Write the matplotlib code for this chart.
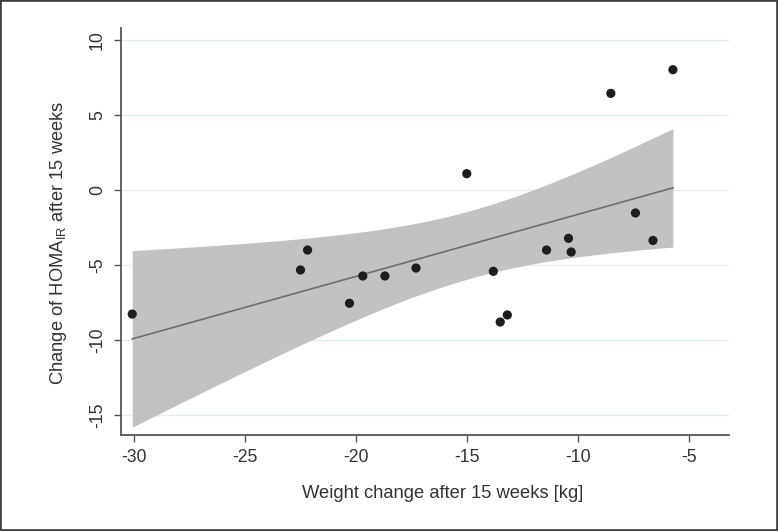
import numpy as np
import matplotlib
matplotlib.use("Agg")
import matplotlib.pyplot as plt

# Data
weight_change = [-30.1, -22.51, -22.19, -20.3, -19.70, -18.7, -17.30, -15.01, -13.81,
                 -13.5, -13.18, -11.41, -10.42, -10.30, -8.51, -7.40, -6.61, -5.71]
homa_change = [-8.27, -5.33, -4.0, -7.55, -5.73, -5.73, -5.2, 1.09, -5.42,
               -8.8, -8.33, -4.0, -3.22, -4.13, 6.44, -1.53, -3.36, 8.02]
x_ticks = [-30, -25, -20, -15, -10, -5]
y_ticks = [-15, -10, -5, 0, 5, 10]
x_label = "Weight change after 15 weeks [kg]"
y_label = "Change of HOMA$_\\mathregular{IR}$ after 15 weeks"

plt.rcParams['font.family'] = ['Liberation Sans', 'DejaVu Sans']
plt.rcParams['mathtext.fontset'] = 'custom'
plt.rcParams['mathtext.rm'] = 'Liberation Sans'

x = np.array(weight_change)
y = np.array(homa_change)
n = len(x)
b, a = np.polyfit(x, y, 1)
xs = np.linspace(x.min(), x.max(), 200)
yhat = a + b * xs
resid = y - (a + b * x)
s = np.sqrt(np.sum(resid ** 2) / (n - 2))
sxx = np.sum((x - x.mean()) ** 2)
tcrit = 2.45  # band multiplier chosen to match the reference band width
half = tcrit * s * np.sqrt(1.0 / n + (xs - x.mean()) ** 2 / sxx)

W, H = 778, 531
fig = plt.figure(figsize=(W / 100, H / 100), dpi=100)
fig.patch.set_facecolor('white')
left, right, top, bottom = 120.7, 729, 28, 435
ax = fig.add_axes([left / W, 1 - bottom / H, (right - left) / W, (bottom - top) / H])
ax.set_facecolor('white')

for yt in y_ticks:
    ax.axhline(yt, color='#e4eef0', lw=1.0, zorder=0)

ax.fill_between(xs, yhat - half, yhat + half, color='#c2c2c2', lw=0, zorder=1)
ax.plot(xs, yhat, color='#6e6e6e', lw=1.2, zorder=2)
ax.scatter(x, y, s=44, color='#1e1e1e', edgecolors='none', zorder=3)

ax.set_xlim(-30.62, -3.18)
ax.set_ylim(-16.33, 10.8)
ax.set_xticks(x_ticks)
ax.set_yticks(y_ticks)
ax.set_xticklabels([str(v) for v in x_ticks])
ax.set_yticklabels([str(v) for v in y_ticks], rotation=90, va='center')

for side in ['top', 'right']:
    ax.spines[side].set_visible(False)
for side in ['left', 'bottom']:
    ax.spines[side].set_color('#555555')
    ax.spines[side].set_linewidth(1.3)

ax.tick_params(axis='both', direction='out', length=5, width=1.0, color='#555555',
               labelcolor='#333333', labelsize=12.7)
ax.tick_params(axis='x', pad=5)
ax.tick_params(axis='y', pad=5.5)

fig.text(443 / W, 1 - 494 / H, x_label, ha='center', va='center', fontsize=13.2, color='#333333')
fig.text(58.5 / W, 1 - 243 / H, y_label, ha='center', va='center', rotation=90,
         fontsize=13.2, color='#333333')

# Frame around the figure
border = plt.Rectangle((0, 0), 1, 1, transform=fig.transFigure, fill=False,
                       edgecolor='#3c3c3c', lw=2.6, zorder=10)
fig.patches.append(border)

fig.savefig('out.png', dpi=100, facecolor='white')
